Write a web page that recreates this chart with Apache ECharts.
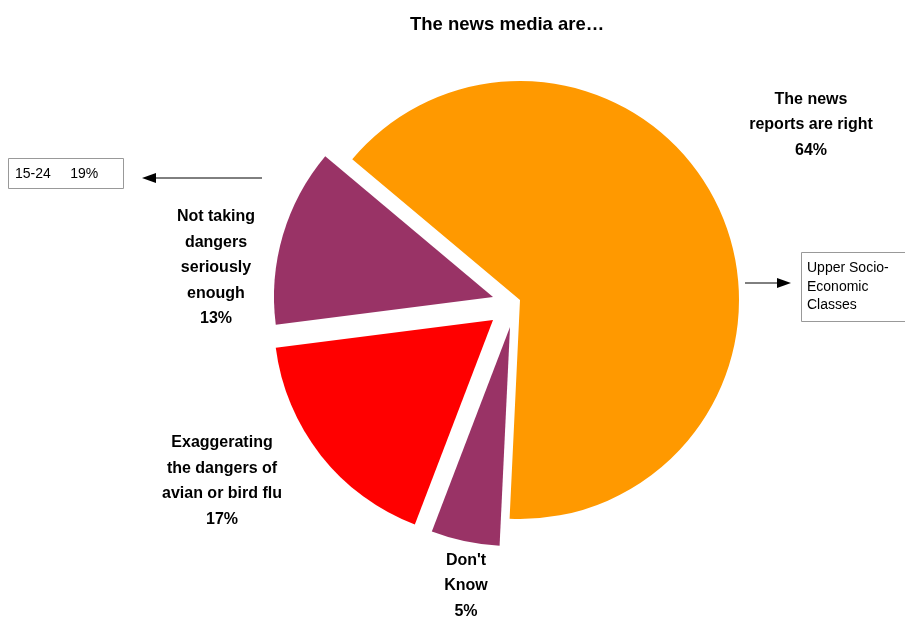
<!DOCTYPE html>
<html>
<head>
<meta charset="utf-8">
<script src="https://cdn.jsdelivr.net/npm/echarts@6/dist/echarts.min.js"></script>
<style>
  html, body { margin: 0; padding: 0; background: #fff; }
  #chart { width: 905px; height: 622px; }
</style>
</head>
<body>
<div id="chart"></div>
<script>
// Answers to "The news media are…"
const categories = [
  'The news\nreports are right',
  "Don't\nKnow",
  'Exaggerating\nthe dangers of\navian or bird flu',
  'Not taking\ndangers\nseriously\nenough'
];
const values = [64, 5, 17, 13];
const colors = ['#FF9900', '#993366', '#FF0000', '#993366'];

// Each slice is pulled out of the pie on its own, so each gets its own centre
const sliceCentres = [[520, 300], [510, 327], [493, 320], [493, 297]];
// Where each slice's label block sits
const labelSpots = [[811, 125], [466, 586], [222, 481], [216, 268]];

const font = '"Liberation Sans", Arial, sans-serif';

const series = categories.map((_, k) => ({
  type: 'pie',
  center: sliceCentres[k],
  radius: 219,
  startAngle: 140,
  clockwise: true,
  silent: true,
  animation: false,
  emphasis: { disabled: true },
  labelLine: { show: false },
  data: categories.map((name, i) => ({
    name: name,
    value: values[i],
    itemStyle: { color: i === k ? colors[i] : 'rgba(0,0,0,0)', borderWidth: 0 },
    label: {
      show: i === k,
      position: 'outside',
      formatter: '{b}\n{c}%',
      color: '#000',
      fontFamily: font,
      fontWeight: 'bold',
      fontSize: 16,
      lineHeight: 25.5,
      align: 'center'
    }
  })),
  labelLayout: function () {
    return { x: labelSpots[k][0], y: labelSpots[k][1], align: 'center', verticalAlign: 'middle' };
  }
}));

// Side notes with arrows
function arrow(x1, x2, y) {
  const dir = x2 > x1 ? 1 : -1;
  return [
    { type: 'line', shape: { x1: x1, y1: y, x2: x2 - dir * 10, y2: y }, style: { stroke: '#000', lineWidth: 1 } },
    { type: 'polygon', shape: { points: [[x2, y], [x2 - dir * 14, y - 5], [x2 - dir * 14, y + 5]] }, style: { fill: '#000' } }
  ];
}

const graphic = [
  { type: 'rect', shape: { x: 8.5, y: 158.5, width: 115, height: 30 }, style: { fill: '#fff', stroke: '#999', lineWidth: 1 } },
  { type: 'text', x: 15, y: 174, style: { text: '15-24     19%', font: '14px ' + font, fill: '#000', verticalAlign: 'middle' } },
  ...arrow(262, 142, 178),
  { type: 'rect', shape: { x: 801.5, y: 252.5, width: 110, height: 69 }, style: { fill: '#fff', stroke: '#999', lineWidth: 1 } },
  { type: 'text', x: 807, y: 259, style: { text: 'Upper Socio-\nEconomic\nClasses', font: '14px ' + font, lineHeight: 18.5, fill: '#000' } },
  ...arrow(745, 791, 283)
];

const chart = echarts.init(document.getElementById('chart'), null, { renderer: 'canvas' });
chart.setOption({
  backgroundColor: '#fff',
  animation: false,
  title: {
    text: 'The news media are…',
    left: 405,
    top: 10,
    textStyle: { fontFamily: font, fontWeight: 'bold', fontSize: 18.5, color: '#000' }
  },
  series: series,
  graphic: graphic
});
</script>
</body>
</html>
